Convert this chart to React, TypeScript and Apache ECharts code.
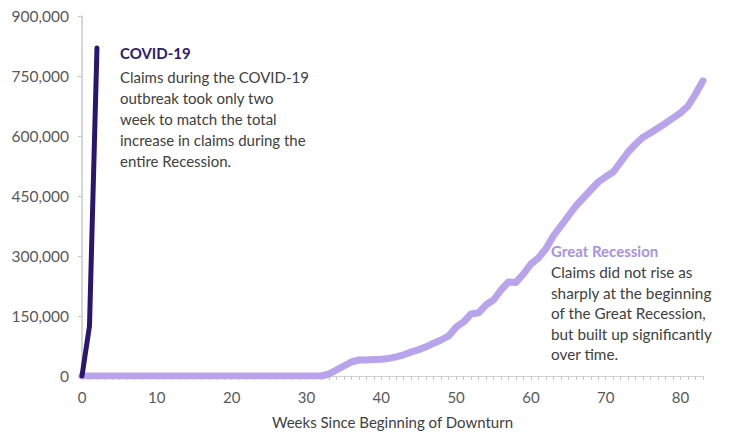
import React, { useEffect, useRef } from "react";
import * as echarts from "echarts";

const weeks: string[] = Array.from({ length: 84 }, (_, i) => String(i));

const covidClaims: number[] = [0, 125000, 820000];

const recessionClaims: number[] = [
  0, 0, 0, 0, 0, 0, 0, 0, 0, 0,
  0, 0, 0, 0, 0, 0, 0, 0, 0, 0,
  0, 0, 0, 0, 0, 0, 0, 0, 0, 0,
  0, 0, 0, 5000, 15000, 25000, 35000, 40000, 40000, 41000,
  42000, 44000, 48000, 53000, 60000, 66000, 73000, 82000, 90000, 100000,
  122000, 135000, 155000, 158000, 178000, 190000, 215000, 235000, 234000, 255000,
  280000, 295000, 318000, 350000, 375000, 400000, 425000, 445000, 465000, 485000,
  498000, 510000, 535000, 560000, 580000, 597000, 608000, 620000, 632000, 645000,
  658000, 675000, 705000, 738000,
];

const yTicks = { min: 0, max: 900000, interval: 150000 };

const covidTitle = "COVID-19";
const covidText = [
  "Claims during the COVID-19",
  "outbreak took only two",
  "week to match the total",
  "increase in claims during the",
  "entire Recession.",
];
const recTitle = "Great Recession";
const recText = [
  "Claims did not rise as",
  "sharply at the beginning",
  "of the Great Recession,",
  "but built up significantly",
  "over time.",
];

const FONT = "Lato, 'Open Sans', sans-serif";

export default function App() {
  const ref = useRef<HTMLDivElement>(null);
  useEffect(() => {
    document.body.style.margin = "0";
    if (!ref.current) return;
    const chart = echarts.init(ref.current, null, { renderer: "svg" });
    chart.setOption({
      animation: false,
      backgroundColor: "#ffffff",
      grid: { left: 82, right: 26, top: 16, bottom: 50, containLabel: false },
      xAxis: {
        type: "category",
        data: weeks,
        boundaryGap: false,
        name: "Weeks Since Beginning of Downturn",
        nameLocation: "middle",
        nameGap: 38,
        nameTextStyle: { color: "#404040", fontSize: 15, fontFamily: FONT },
        axisLine: { show: true, lineStyle: { color: "#d0d0d0", width: 1 } },
        axisTick: {
          show: true,
          interval: 0,
          length: 4,
          lineStyle: { color: "#c8c8c8" },
        },
        axisLabel: {
          interval: 9,
          color: "#595959",
          fontSize: 15,
          fontFamily: FONT,
          margin: 13,
        },
        splitLine: { show: false },
      },
      yAxis: {
        type: "value",
        min: yTicks.min,
        max: yTicks.max,
        interval: yTicks.interval,
        axisLine: { show: true, lineStyle: { color: "#c8c8c8", width: 1.5 } },
        axisTick: { show: true, length: 4, lineStyle: { color: "#c8c8c8" } },
        axisLabel: {
          color: "#595959",
          fontSize: 15.5,
          fontFamily: FONT,
          margin: 13,
          formatter: (v: number) => v.toLocaleString("en-US"),
        },
        splitLine: { show: false },
      },
      series: [
        {
          name: "Great Recession",
          type: "line",
          data: recessionClaims,
          symbol: "none",
          lineStyle: { color: "#b9a3ec", width: 7, cap: "round", join: "round" },
          z: 3,
        },
        {
          name: "COVID-19",
          type: "line",
          data: covidClaims,
          symbol: "none",
          lineStyle: { color: "#2a166e", width: 5, cap: "round", join: "round" },
          z: 4,
        },
      ],
      graphic: [
        {
          type: "text",
          left: 120,
          top: 45,
          style: {
            text: covidTitle,
            fill: "#2e1a70",
            font: `bold 15px ${FONT}`,
          },
        },
        {
          type: "text",
          left: 120,
          top: 66,
          style: {
            text: covidText.join("\n"),
            fill: "#404040",
            font: `15px ${FONT}`,
            lineHeight: 21,
          },
        },
        {
          type: "text",
          left: 551,
          top: 243,
          style: {
            text: recTitle,
            fill: "#a892e2",
            font: `bold 15px ${FONT}`,
          },
        },
        {
          type: "text",
          left: 551,
          top: 262,
          style: {
            text: recText.join("\n"),
            fill: "#404040",
            font: `15.3px ${FONT}`,
            lineHeight: 20.5,
          },
        },
      ],
    });
    return () => chart.dispose();
  }, []);
  return <div ref={ref} style={{ width: 729, height: 434 }} />;
}
